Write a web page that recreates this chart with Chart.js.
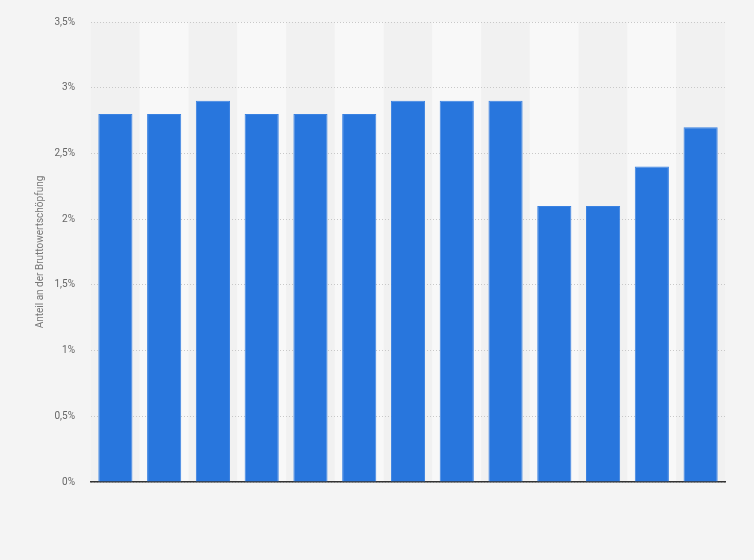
<!DOCTYPE html>
<html>
	<head>
		<meta charset="utf-8">
		<title>Anteil an der Bruttowertschöpfung</title>
		<script src="https://cdnjs.cloudflare.com/ajax/libs/Chart.js/4.4.1/chart.umd.min.js"></script>
		<style>
			html, body {
				margin: 0;
				padding: 0;
				background: #f4f4f4;
			}
			.chart-container {
				width: 754px;
				height: 560px;
			}
		</style>
	</head>
	<body>
		<div class="chart-container">
			<canvas id="barChart"></canvas>
		</div>
		<script>
			// Categories (x labels are not shown in the picture)
			const categories = ["1", "2", "3", "4", "5", "6", "7", "8", "9", "10", "11", "12", "13"];
			// Share in percent
			const shares = [2.8, 2.8, 2.9, 2.8, 2.8, 2.8, 2.9, 2.9, 2.9, 2.1, 2.1, 2.4, 2.7];

			// Alternating column bands behind the grid
			const bandPlugin = {
				id: "bands",
				beforeDraw(chart) {
					const { ctx, chartArea, scales } = chart;
					const x = scales.x;
					const step = (chartArea.right - chartArea.left) / categories.length;
					ctx.save();
					categories.forEach((c, i) => {
						ctx.fillStyle = i % 2 === 0 ? "#f1f1f1" : "#f8f8f8";
						const left = x.getPixelForValue(i) - step / 2;
						ctx.fillRect(left, chartArea.top, step, chartArea.bottom - chartArea.top);
					});
					ctx.restore();
				},
			};

			const config = {
				type: "bar",
				data: {
					labels: categories,
					datasets: [
						{
							data: shares,
							backgroundColor: "#2876dd",
							borderColor: "#3a82e2",
							borderWidth: 1,
							barPercentage: 0.7,
							categoryPercentage: 1,
						},
					],
				},
				options: {
					responsive: true,
					maintainAspectRatio: false,
					animation: false,
					layout: {
						padding: { left: 34, right: 29, top: 13, bottom: 70 },
					},
					plugins: {
						legend: { display: false },
						tooltip: { enabled: false },
					},
					scales: {
						x: {
							grid: { display: false },
							ticks: { display: false },
							border: { display: true, color: "#333333", width: 1.5 },
						},
						y: {
							min: 0,
							max: 3.5,
							afterFit(scale) {
								scale.width = 57;
							},
							ticks: {
								stepSize: 0.5,
								padding: 16,
								color: "#666666",
								font: { family: "Roboto", size: 10 },
								callback: (v) => String(v).replace(".", ",") + "%",
							},
							grid: {
								color: "#c8c8c8",
								drawTicks: false,
							},
							border: { display: false, dash: [1, 2] },
							title: {
								display: true,
								text: "Anteil an der Bruttowertschöpfung",
								color: "#777777",
								font: { family: "Roboto", size: 10 },
								padding: 0,
							},
						},
					},
				},
				plugins: [bandPlugin],
			};

			new Chart(document.getElementById("barChart"), config);
		</script>
	</body>
</html>
